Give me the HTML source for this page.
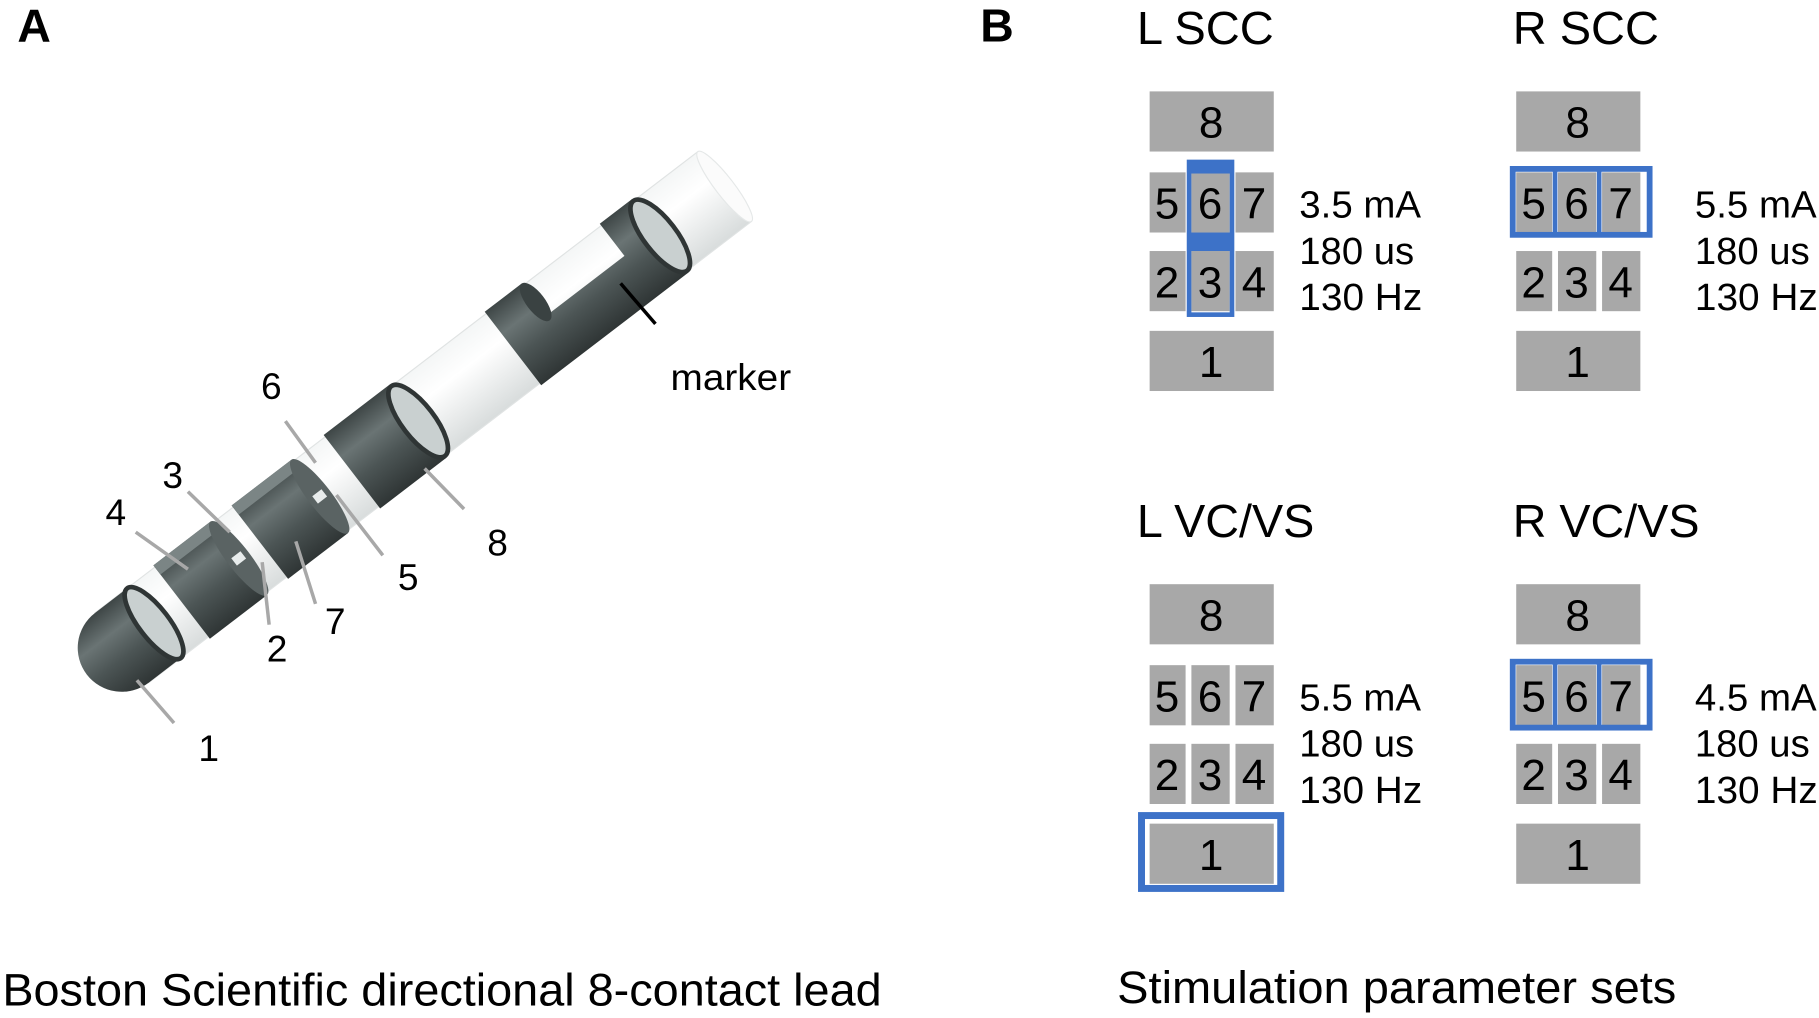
<!DOCTYPE html>
<html><head><meta charset="utf-8"><style>
html,body{margin:0;padding:0;background:#fff;overflow:hidden}
svg{display:block}
text{font-family:"Liberation Sans",Arial,sans-serif;fill:#000}
</style></head><body>
<svg width="1819" height="1018" viewBox="0 0 1568 880" preserveAspectRatio="none" xmlns="http://www.w3.org/2000/svg">
<defs>
<linearGradient id="tube" x1="0" y1="0" x2="0" y2="1">
<stop offset="0" stop-color="#f4f6f6"/><stop offset="0.35" stop-color="#ffffff"/><stop offset="1" stop-color="#d8dcdc"/></linearGradient>
<linearGradient id="dark" x1="0" y1="0" x2="0" y2="1">
<stop offset="0" stop-color="#3e4646"/><stop offset="0.3" stop-color="#6a7474"/><stop offset="0.6" stop-color="#4c5555"/><stop offset="1" stop-color="#2f3535"/></linearGradient>
</defs>

<text x="15" y="36" font-size="40" font-weight="bold">A</text>
<text x="845" y="36" font-size="40" font-weight="bold">B</text>

<!-- Lead -->
<g transform="translate(105,560) rotate(-37.5)">
  <rect x="0" y="-38" width="655" height="76" fill="url(#tube)" stroke="#e0e3e3" stroke-width="1"/>
  <ellipse cx="655" cy="0" rx="8" ry="38" fill="#fbfbfb" stroke="#e5e8e8"/>
  <path d="M35,-38 L0,-38 A38,38 0 0 0 0,38 L35,38 Z" fill="url(#dark)"/>
  <ellipse cx="35" cy="0" rx="13" ry="38" fill="#c9d0d0" stroke="#2f3535" stroke-width="4"/>
  <rect x="65" y="-40" width="62" height="80" fill="url(#dark)"/>
  <rect x="65" y="-40" width="62" height="10" fill="#7b8585"/>
  <ellipse cx="127" cy="0" rx="10" ry="40" fill="#5a6363"/>
  <rect x="122" y="-4" width="10" height="8" fill="#e8ecec"/>
  <rect x="150" y="-40" width="65" height="80" fill="url(#dark)"/>
  <rect x="150" y="-40" width="65" height="10" fill="#7b8585"/>
  <ellipse cx="215" cy="0" rx="10" ry="40" fill="#5a6363"/>
  <rect x="210" y="-4" width="10" height="8" fill="#e8ecec"/>
  <rect x="250" y="-40" width="72" height="80" fill="url(#dark)"/>
  <ellipse cx="322" cy="0" rx="14" ry="38" fill="#c9d0d0" stroke="#2f3535" stroke-width="4"/>
  <path d="M425,-40 L465,-40 L465,-5 L550,-5 L550,-40 L585,-40 L585,40 L425,40 Z" fill="url(#dark)"/>
  <ellipse cx="465" cy="-20" rx="8" ry="20" fill="#3a4242"/>
  <ellipse cx="585" cy="0" rx="14" ry="38" fill="#c9d0d0" stroke="#2f3535" stroke-width="4"/>
</g>

<g stroke="#a8a8a8" stroke-width="3">
  <line x1="118" y1="588" x2="150" y2="625"/>
  <line x1="226" y1="486" x2="232" y2="540"/>
  <line x1="162" y1="425" x2="198" y2="460"/>
  <line x1="117" y1="460" x2="162" y2="492"/>
  <line x1="290" y1="428" x2="330" y2="480"/>
  <line x1="246" y1="364" x2="272" y2="400"/>
  <line x1="255" y1="468" x2="272" y2="522"/>
  <line x1="366" y1="405" x2="400" y2="440"/>
</g>
<line x1="535" y1="245" x2="565" y2="280" stroke="#000" stroke-width="3"/>
<g font-size="32">
<text x="171" y="658">1</text>
<text x="230" y="572">2</text>
<text x="140" y="422">3</text>
<text x="91" y="454">4</text>
<text x="343" y="510">5</text>
<text x="225" y="345">6</text>
<text x="280" y="548">7</text>
<text x="420" y="480">8</text>
<text x="578" y="337" textLength="104" lengthAdjust="spacingAndGlyphs">marker</text>
</g>

<g font-size="40">
<text x="980" y="38" textLength="118" lengthAdjust="spacingAndGlyphs">L SCC</text>
<text x="1304" y="38" textLength="126" lengthAdjust="spacingAndGlyphs">R SCC</text>
<text x="980" y="464" textLength="153" lengthAdjust="spacingAndGlyphs">L VC/VS</text>
<text x="1304" y="464" textLength="161" lengthAdjust="spacingAndGlyphs">R VC/VS</text>
</g>

<g fill="#a8a8a8">
<rect x="991" y="79" width="107" height="52"/>
<rect x="991" y="149" width="31" height="52"/><rect x="1027" y="149" width="33" height="52"/><rect x="1065" y="149" width="33" height="52"/>
<rect x="991" y="217" width="31" height="52"/><rect x="1027" y="217" width="33" height="52"/><rect x="1065" y="217" width="33" height="52"/>
<rect x="991" y="286" width="107" height="52"/>
<rect x="1307" y="79" width="107" height="52"/>
<rect x="1307" y="149" width="31" height="52"/><rect x="1343" y="149" width="33" height="52"/><rect x="1381" y="149" width="33" height="52"/>
<rect x="1307" y="217" width="31" height="52"/><rect x="1343" y="217" width="33" height="52"/><rect x="1381" y="217" width="33" height="52"/>
<rect x="1307" y="286" width="107" height="52"/>
<rect x="991" y="505" width="107" height="52"/>
<rect x="991" y="575" width="31" height="52"/><rect x="1027" y="575" width="33" height="52"/><rect x="1065" y="575" width="33" height="52"/>
<rect x="991" y="643" width="31" height="52"/><rect x="1027" y="643" width="33" height="52"/><rect x="1065" y="643" width="33" height="52"/>
<rect x="991" y="712" width="107" height="52"/>
<rect x="1307" y="505" width="107" height="52"/>
<rect x="1307" y="575" width="31" height="52"/><rect x="1343" y="575" width="33" height="52"/><rect x="1381" y="575" width="33" height="52"/>
<rect x="1307" y="643" width="31" height="52"/><rect x="1343" y="643" width="33" height="52"/><rect x="1381" y="643" width="33" height="52"/>
<rect x="1307" y="712" width="107" height="52"/>
</g>

<g fill="none" stroke="#3d72c8">
<rect x="1025" y="140" width="37" height="132" stroke-width="4"/>
<rect x="1025" y="201" width="37" height="16" fill="#3d72c8" stroke="none"/>
<rect x="1304" y="146" width="118" height="57" stroke-width="5"/>
<line x1="1340.5" y1="146" x2="1340.5" y2="203" stroke-width="4"/>
<line x1="1378.5" y1="146" x2="1378.5" y2="203" stroke-width="4"/>
<rect x="1304" y="572" width="118" height="57" stroke-width="5"/>
<line x1="1340.5" y1="572" x2="1340.5" y2="629" stroke-width="4"/>
<line x1="1378.5" y1="572" x2="1378.5" y2="629" stroke-width="4"/>
<rect x="984" y="705" width="120" height="63" stroke-width="6"/>
</g>
<rect x="1025" y="140" width="37" height="10" fill="#3d72c8"/>

<g font-size="38" text-anchor="middle">
<text x="1044" y="119">8</text><text x="1006" y="189">5</text><text x="1043" y="189">6</text><text x="1081" y="189">7</text>
<text x="1006" y="257">2</text><text x="1043" y="257">3</text><text x="1081" y="257">4</text><text x="1044" y="326">1</text>
<text x="1360" y="119">8</text><text x="1322" y="189">5</text><text x="1359" y="189">6</text><text x="1397" y="189">7</text>
<text x="1322" y="257">2</text><text x="1359" y="257">3</text><text x="1397" y="257">4</text><text x="1360" y="326">1</text>
<text x="1044" y="545">8</text><text x="1006" y="615">5</text><text x="1043" y="615">6</text><text x="1081" y="615">7</text>
<text x="1006" y="683">2</text><text x="1043" y="683">3</text><text x="1081" y="683">4</text><text x="1044" y="752">1</text>
<text x="1360" y="545">8</text><text x="1322" y="615">5</text><text x="1359" y="615">6</text><text x="1397" y="615">7</text>
<text x="1322" y="683">2</text><text x="1359" y="683">3</text><text x="1397" y="683">4</text><text x="1360" y="752">1</text>
</g>

<g font-size="33">
<text x="1120" y="188" textLength="105" lengthAdjust="spacingAndGlyphs">3.5 mA</text><text x="1120" y="228" textLength="99" lengthAdjust="spacingAndGlyphs">180 us</text><text x="1120" y="268" textLength="106" lengthAdjust="spacingAndGlyphs">130 Hz</text>
<text x="1461" y="188" textLength="105" lengthAdjust="spacingAndGlyphs">5.5 mA</text><text x="1461" y="228" textLength="99" lengthAdjust="spacingAndGlyphs">180 us</text><text x="1461" y="268" textLength="106" lengthAdjust="spacingAndGlyphs">130 Hz</text>
<text x="1120" y="614" textLength="105" lengthAdjust="spacingAndGlyphs">5.5 mA</text><text x="1120" y="654" textLength="99" lengthAdjust="spacingAndGlyphs">180 us</text><text x="1120" y="694" textLength="106" lengthAdjust="spacingAndGlyphs">130 Hz</text>
<text x="1461" y="614" textLength="105" lengthAdjust="spacingAndGlyphs">4.5 mA</text><text x="1461" y="654" textLength="99" lengthAdjust="spacingAndGlyphs">180 us</text><text x="1461" y="694" textLength="106" lengthAdjust="spacingAndGlyphs">130 Hz</text>
</g>

<text x="2" y="869" font-size="39" textLength="758" lengthAdjust="spacingAndGlyphs">Boston Scientific directional 8-contact lead</text>
<text x="963" y="867" font-size="39" textLength="482" lengthAdjust="spacingAndGlyphs">Stimulation parameter sets</text>
</svg>
</body></html>
